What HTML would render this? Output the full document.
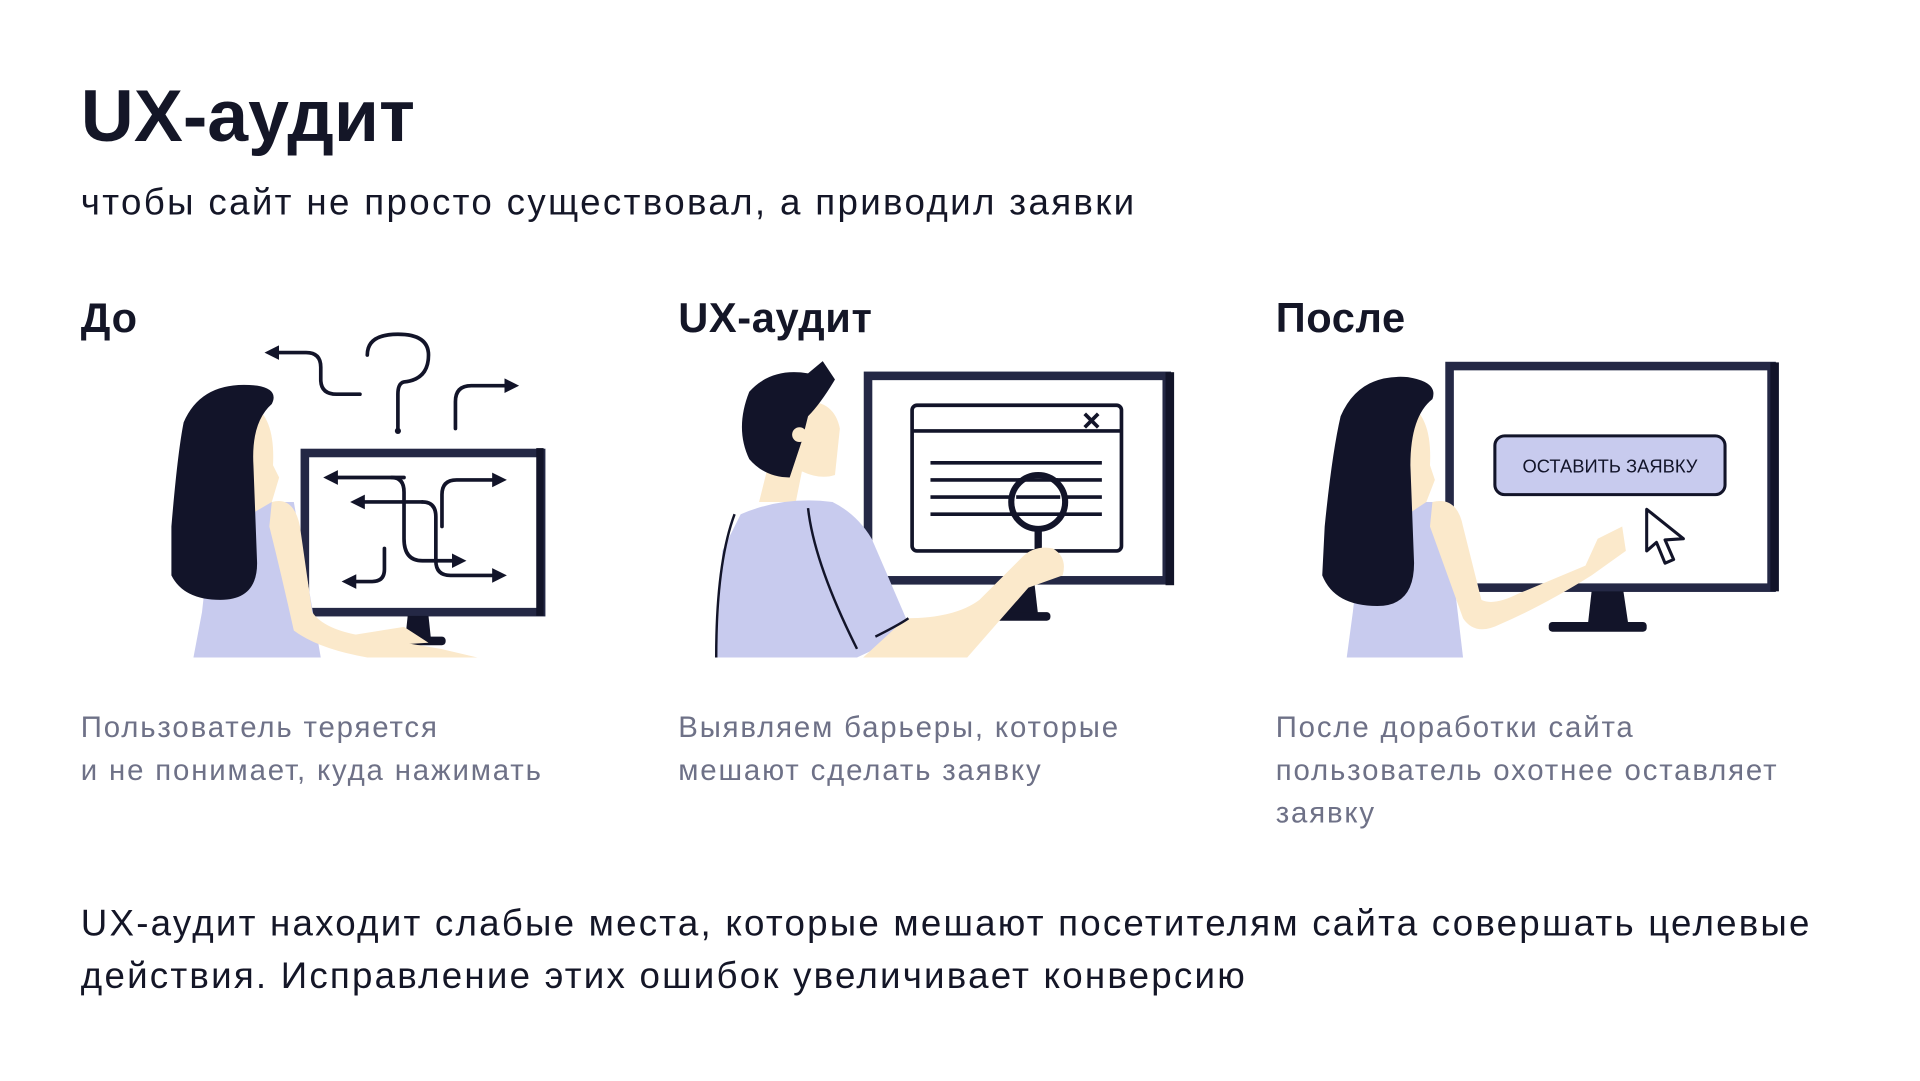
<!DOCTYPE html>
<html><head><meta charset="utf-8"><style>
html,body{margin:0;padding:0;background:#fff;}
body{width:1920px;height:1080px;overflow:hidden;position:relative;}
#s{position:absolute;left:0;top:0;width:1569px;height:883px;transform:scale(1.2243);transform-origin:0 0;font-family:"Liberation Sans",sans-serif;color:#141627;}
.t{position:absolute;white-space:nowrap;}
h1{position:absolute;left:66px;top:60px;margin:0;font-size:60px;font-weight:bold;line-height:70px;letter-spacing:0px;}
.h{font-size:34px;font-weight:bold;top:238px;line-height:44px;letter-spacing:0.5px;}
.c{font-size:24px;color:#6e7187;line-height:35px;top:577px;white-space:normal;letter-spacing:1.5px;}
svg{position:absolute;left:0;top:0;}
</style></head><body><div id="s">
<h1>UX-аудит</h1>
<div class="t" style="left:66px;top:146px;font-size:30px;line-height:40px;letter-spacing:1.9px;">чтобы сайт не просто существовал, а приводил заявки</div>
<div class="t h" style="left:66px;">До</div>
<div class="t h" style="left:554px;">UX-аудит</div>
<div class="t h" style="left:1042px;">После</div>
<div class="t c" style="left:66px;width:440px;">Пользователь теряется<br>и не понимает, куда нажимать</div>
<div class="t c" style="left:554px;width:440px;">Выявляем барьеры, которые<br>мешают сделать заявку</div>
<div class="t c" style="left:1042px;width:460px;">После доработки сайта<br>пользователь охотнее оставляет<br>заявку</div>
<div class="t" style="left:66px;top:733px;font-size:30px;line-height:43px;letter-spacing:1.8px;">UX-аудит находит слабые места, которые мешают посетителям сайта совершать целевые<br>действия. Исправление этих ошибок увеличивает конверсию</div>
<svg width="1545" height="870" viewBox="0 0 1545 870">
<defs><marker id="a" markerWidth="4" markerHeight="4" refX="2" refY="2" orient="auto" markerUnits="strokeWidth"><path d="M0,0 L4,2 L0,4z" fill="#121429"/></marker></defs>
<g fill="none" stroke="#121429" stroke-width="3" stroke-linecap="round">
<path d="M294,322 H275 Q262,322 262,310 V300 Q262,288 250,288 H222" marker-end="url(#a)"/>
<path d="M300,290 Q300,273 325,273 Q350,273 350,290 Q350,310 330,312 Q325,313 325,322 V350"/>
<path d="M372,350 V328 Q372,315 385,315 H418" marker-end="url(#a)"/>
<path d="M320,390 Q330,390 330,402 V440 Q330,458 345,458 H375" marker-end="url(#a)"/>
<path d="M345,410 H292" marker-end="url(#a)"/>
<path d="M345,410 Q356,410 356,422 V458 Q356,470 368,470 H408" marker-end="url(#a)"/>
<path d="M361,430 V404 Q361,392 373,392 H408" marker-end="url(#a)"/>
<path d="M314,448 V465 Q314,475 304,475 H285" marker-end="url(#a)"/>
<path d="M330,390 H270" marker-end="url(#a)"/>
</g>
<circle cx="325" cy="352" r="2.5" fill="#121429"/>
<rect x="249" y="370" width="193" height="130" fill="none" stroke="#242845" stroke-width="7"/>
<rect x="438" y="366" width="6" height="137" fill="#121429"/>
<path d="M333,503 H350 L352,522 H331z" fill="#121429"/>
<rect x="318" y="520" width="46" height="7" rx="3" fill="#121429"/>
<path d="M175,410 H240 L262,537 H158 L165,500 Z" fill="#c8cbee"/>
<path d="M205,330 Q225,340 223,380 L228,390 L222,410 L205,420Z" fill="#fbe9cb"/>
<path d="M150,345 Q165,310 210,315 Q228,318 222,330 Q205,345 207,380 L210,460 Q210,490 180,490 Q150,490 140,470 L140,430 Q145,370 150,345Z" fill="#121429"/>
<path d="M222,410 Q240,405 245,430 L255,500 Q265,515 300,520 L360,530 L390,537 H300 Q260,530 240,515 Q230,470 220,430Z" fill="#fbe9cb"/>
<path d="M280,520 L330,512 L350,525 L300,528Z" fill="#fbe9cb"/>
<rect x="709" y="307" width="244" height="167" fill="none" stroke="#242845" stroke-width="7"/>
<rect x="952" y="304" width="7" height="174" fill="#121429"/>
<path d="M822,477 H845 L848,503 H818z" fill="#121429"/>
<rect x="812" y="500" width="46" height="7" rx="3" fill="#121429"/>
<rect x="745" y="331" width="171" height="119" rx="4" fill="none" stroke="#121429" stroke-width="3"/>
<line x1="745" y1="352" x2="916" y2="352" stroke="#121429" stroke-width="3"/>
<path d="M886,338 L897,349 M897,338 L886,349" stroke="#121429" stroke-width="3"/>
<g stroke="#121429" stroke-width="3"><line x1="760" y1="378" x2="900" y2="378"/><line x1="760" y1="392" x2="900" y2="392"/><line x1="760" y1="406" x2="900" y2="406"/><line x1="760" y1="420" x2="900" y2="420"/></g>
<circle cx="848" cy="410" r="22" fill="#fff" stroke="#121429" stroke-width="5"/>
<g stroke="#121429" stroke-width="3"><line x1="830" y1="406" x2="866" y2="406"/><line x1="830" y1="420" x2="866" y2="420"/><line x1="832" y1="392" x2="864" y2="392"/></g>
<rect x="845" y="432" width="6" height="20" fill="#121429"/>
<path d="M640,330 Q680,320 686,350 L682,388 Q670,392 655,385 L650,410 H620Z" fill="#fbe9cb"/>
<path d="M612,320 Q630,300 660,305 L672,295 L682,310 Q670,330 660,340 L655,360 L650,375 L645,390 Q625,390 612,375 Q600,350 612,320Z" fill="#121429"/>
<circle cx="653" cy="355" r="6" fill="#fbe9cb"/>
<path d="M605,420 Q640,405 680,410 Q700,420 712,440 L740,505 L715,530 L700,537 H585 L590,450 Z" fill="#c8cbee"/>
<path d="M740,505 Q780,505 800,490 L835,455 Q845,445 860,448 Q872,455 868,470 L840,480 L790,537 H705 Z" fill="#fbe9cb"/>
<path d="M600,420 Q585,460 585,537 M660,415 Q665,460 700,530 M715,520 Q735,510 742,505" fill="none" stroke="#121429" stroke-width="2"/>
<rect x="1184" y="299" width="263" height="181" fill="none" stroke="#242845" stroke-width="7"/>
<rect x="1446" y="296" width="7" height="187" fill="#121429"/>
<path d="M1300,483 H1326 L1330,510 H1297z" fill="#121429"/>
<rect x="1265" y="508" width="80" height="8" rx="3" fill="#121429"/>
<rect x="1221" y="356" width="188" height="48" rx="8" fill="#c8cbee" stroke="#121429" stroke-width="2.5"/>
<text x="1315" y="386" text-anchor="middle" font-family="Liberation Sans, sans-serif" font-size="15" fill="#121429">ОСТАВИТЬ ЗАЯВКУ</text>
<path d="M1345,416 L1345,450 L1353,443 L1360,460 L1367,457 L1360,441 L1375,440 Z" fill="#fff" stroke="#121429" stroke-width="2.5" stroke-linejoin="round"/>
<path d="M1115,410 H1180 L1195,537 H1100 L1105,500 Z" fill="#c8cbee"/>
<path d="M1150,330 Q1170,340 1168,380 L1172,392 L1165,410 L1150,420Z" fill="#fbe9cb"/>
<path d="M1095,340 Q1110,305 1150,308 Q1175,312 1170,326 Q1152,340 1152,380 L1155,460 Q1155,495 1125,495 Q1090,495 1080,470 L1082,430 Q1088,370 1095,340Z" fill="#121429"/>
<path d="M1170,410 Q1190,405 1195,430 L1210,490 Q1220,495 1240,485 L1295,462 L1305,440 L1325,430 L1328,450 L1300,470 Q1260,495 1225,510 Q1205,520 1195,505 L1168,430Z" fill="#fbe9cb"/>
</svg>
</div></body></html>
